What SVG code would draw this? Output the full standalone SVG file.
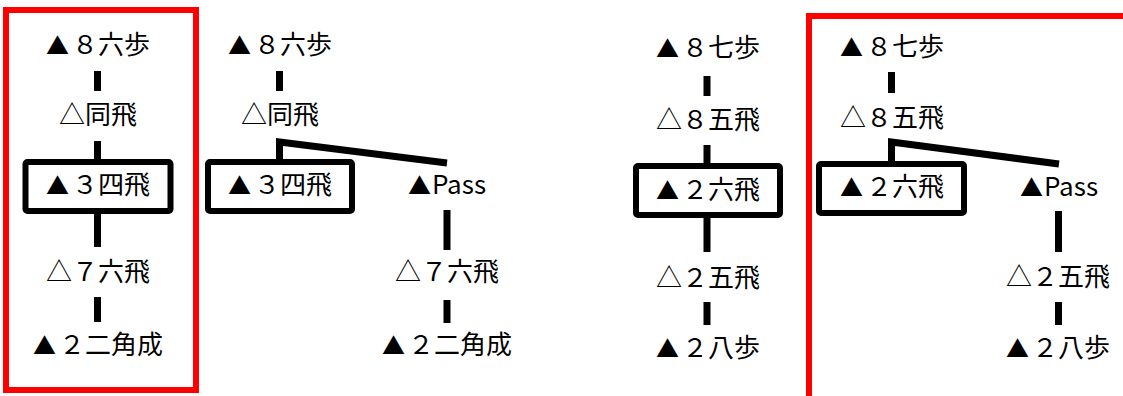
<svg xmlns="http://www.w3.org/2000/svg" width="1123" height="396" viewBox="0 0 1123 396">
<style>
text{font-family:"Noto Sans CJK JP","Noto Sans",sans-serif;font-size:26px;fill:#000;text-anchor:middle}
.b{font-size:23px}
.bar{stroke:#000;stroke-width:7;fill:none}
.box{fill:none;stroke:#000;stroke-width:6}
.red{fill:none;stroke:#ff0000;stroke-width:6}
</style>
<rect width="1123" height="396" fill="#fff"/>
<g id="frames">
<rect class="red" x="6" y="10" width="190" height="380"/>
<rect class="red" x="809" y="16" width="400" height="420"/>
</g>
<g id="connectors">
<path class="bar" d="M97.5 71V91M97.5 141V162M97.5 213V247M97.5 297V322"/>
<path class="bar" d="M279.5 71V91M279.5 162V142L447 163M447 210V250M447 300V323"/>
<path class="bar" d="M707 76V96M707 145V166M707 218V252M707 302V325"/>
<path class="bar" d="M891.5 72V93M891.5 162V142L1059 164M1058.5 211V252M1058.5 302V325"/>
</g>
<g id="t1-n1"><text x="98" y="54"><tspan class="b">▲</tspan><tspan dx="3">８六歩</tspan></text></g>
<g id="t1-n2"><text x="98" y="124">△同飛</text></g>
<g id="t1-n3"><rect class="box" x="25.5" y="162" width="145" height="49" rx="2"/><text x="98" y="194"><tspan class="b">▲</tspan><tspan dx="3">３四飛</tspan></text></g>
<g id="t1-n4"><text x="98" y="281">△７六飛</text></g>
<g id="t1-n5"><text x="98" y="354"><tspan class="b">▲</tspan><tspan dx="3">２二角成</tspan></text></g>

<g id="t2-n1"><text x="280" y="54"><tspan class="b">▲</tspan><tspan dx="3">８六歩</tspan></text></g>
<g id="t2-n2"><text x="280" y="124">△同飛</text></g>
<g id="t2-n3"><rect class="box" x="208" y="162" width="144" height="49" rx="2"/><text x="280" y="194"><tspan class="b">▲</tspan><tspan dx="3">３四飛</tspan></text></g>
<g id="t2-n4"><text x="447" y="194"><tspan class="b">▲</tspan><tspan dx="1">Pass</tspan></text></g>
<g id="t2-n5"><text x="447" y="281">△７六飛</text></g>
<g id="t2-n6"><text x="447" y="354"><tspan class="b">▲</tspan><tspan dx="3">２二角成</tspan></text></g>

<g id="t3-n1"><text x="708" y="57"><tspan class="b">▲</tspan><tspan dx="3">８七歩</tspan></text></g>
<g id="t3-n2"><text x="708" y="129">△８五飛</text></g>
<g id="t3-n3"><rect class="box" x="636" y="166" width="144" height="49" rx="2"/><text x="708" y="199"><tspan class="b">▲</tspan><tspan dx="3">２六飛</tspan></text></g>
<g id="t3-n4"><text x="708" y="287">△２五飛</text></g>
<g id="t3-n5"><text x="708" y="357"><tspan class="b">▲</tspan><tspan dx="3">２八歩</tspan></text></g>

<g id="t4-n1"><text x="892" y="56"><tspan class="b">▲</tspan><tspan dx="3">８七歩</tspan></text></g>
<g id="t4-n2"><text x="892" y="127">△８五飛</text></g>
<g id="t4-n3"><rect class="box" x="819" y="164" width="145" height="49" rx="2"/><text x="892" y="196"><tspan class="b">▲</tspan><tspan dx="3">２六飛</tspan></text></g>
<g id="t4-n4"><text x="1059" y="196"><tspan class="b">▲</tspan><tspan dx="1">Pass</tspan></text></g>
<g id="t4-n5"><text x="1058" y="286">△２五飛</text></g>
<g id="t4-n6"><text x="1058" y="357"><tspan class="b">▲</tspan><tspan dx="3">２八歩</tspan></text></g>
</svg>
